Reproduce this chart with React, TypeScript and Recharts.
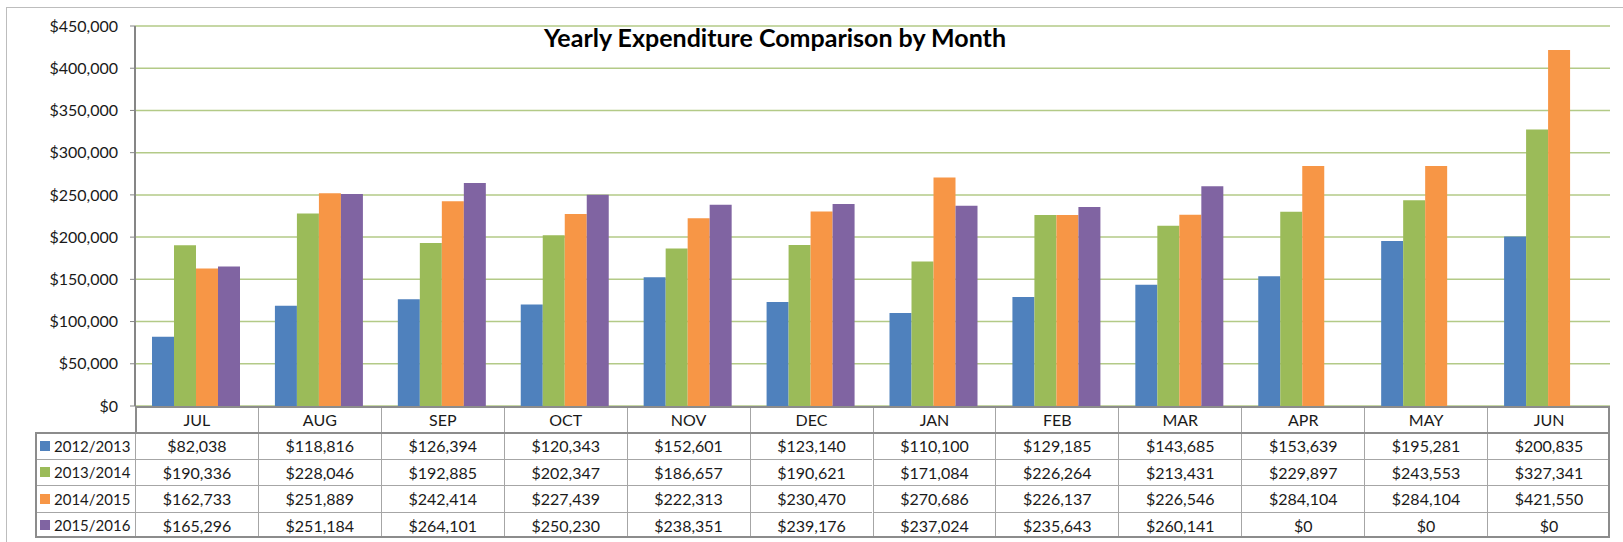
import { BarChart, Bar, XAxis, YAxis, CartesianGrid } from 'recharts';

const months = ['JUL', 'AUG', 'SEP', 'OCT', 'NOV', 'DEC', 'JAN', 'FEB', 'MAR', 'APR', 'MAY', 'JUN'];
const fy1213 = [82038, 118816, 126394, 120343, 152601, 123140, 110100, 129185, 143685, 153639, 195281, 200835];
const fy1314 = [190336, 228046, 192885, 202347, 186657, 190621, 171084, 226264, 213431, 229897, 243553, 327341];
const fy1415 = [162733, 251889, 242414, 227439, 222313, 230470, 270686, 226137, 226546, 284104, 284104, 421550];
const fy1516 = [165296, 251184, 264101, 250230, 238351, 239176, 237024, 235643, 260141, 0, 0, 0];
const yTicks = [0, 50000, 100000, 150000, 200000, 250000, 300000, 350000, 400000, 450000];

const series = [
  { key: 'fy1213', name: '2012/2013', values: fy1213, color: '#4F81BD' },
  { key: 'fy1314', name: '2013/2014', values: fy1314, color: '#9BBB59' },
  { key: 'fy1415', name: '2014/2015', values: fy1415, color: '#F79646' },
  { key: 'fy1516', name: '2015/2016', values: fy1516, color: '#8064A2' },
];

const chartData = months.map((m, i) => {
  const row: Record<string, string | number> = { month: m };
  series.forEach((s) => {
    row[s.key] = s.values[i];
  });
  return row;
});

const money = (v: number) => '$' + v.toLocaleString('en-US');

const FONT = 'Lato, "Open Sans", sans-serif';
const TEXT_SIZE = 16;
const PLOT_LEFT = 135;
const PLOT_RIGHT = 1610;
const PLOT_TOP = 26;
const PLOT_BOTTOM = 406;
const COL_W = (PLOT_RIGHT - PLOT_LEFT) / months.length;
const LEGEND_LEFT = 35;
const HEAD_H = 26;
const ROW_H = 26.5;
const LINE = '#a6a6a6';

function DataTable() {
  const cells: JSX.Element[] = [];
  months.forEach((m, i) => {
    cells.push(
      <div
        key={'h' + m}
        style={{
          position: 'absolute',
          left: PLOT_LEFT + i * COL_W,
          top: PLOT_BOTTOM,
          width: COL_W,
          height: HEAD_H,
          borderLeft: `1px solid ${LINE}`,
          boxSizing: 'border-box',
          display: 'flex',
          alignItems: 'center',
          justifyContent: 'center',
        }}
      >
        {m}
      </div>
    );
  });
  series.forEach((s, r) => {
    const top = PLOT_BOTTOM + HEAD_H + r * ROW_H;
    cells.push(
      <div
        key={'l' + s.key}
        style={{
          position: 'absolute',
          left: LEGEND_LEFT,
          top,
          width: PLOT_LEFT - LEGEND_LEFT,
          height: ROW_H,
          borderTop: `1px solid ${LINE}`,
          boxSizing: 'border-box',
          display: 'flex',
          alignItems: 'center',
          paddingLeft: 5,
          fontSize: 15,
        }}
      >
        <span style={{ width: 10, height: 10, background: s.color, display: 'inline-block', marginRight: 4 }} />
        {s.name}
      </div>
    );
    s.values.forEach((v, i) => {
      cells.push(
        <div
          key={s.key + i}
          style={{
            position: 'absolute',
            left: PLOT_LEFT + i * COL_W,
            top,
            width: COL_W,
            height: ROW_H,
            borderTop: `1px solid ${LINE}`,
            borderLeft: `1px solid ${LINE}`,
            boxSizing: 'border-box',
            display: 'flex',
            alignItems: 'center',
            justifyContent: 'center',
          }}
        >
          {money(v)}
        </div>
      );
    });
  });
  return (
    <>
      {cells}
      {/* outer frame of the table */}
      <div
        style={{
          position: 'absolute',
          left: PLOT_LEFT,
          top: PLOT_BOTTOM,
          width: PLOT_RIGHT - PLOT_LEFT,
          height: HEAD_H,
          border: '2px solid #8c8c8c',
          borderBottom: 'none',
          boxSizing: 'border-box',
        }}
      />
      <div
        style={{
          position: 'absolute',
          left: LEGEND_LEFT,
          top: PLOT_BOTTOM + HEAD_H,
          width: PLOT_RIGHT - LEGEND_LEFT,
          height: ROW_H * series.length,
          border: '2px solid #8c8c8c',
          boxSizing: 'border-box',
        }}
      />
    </>
  );
}

export default function App() {
  return (
    <div
      style={{
        position: 'absolute',
        left: 0,
        top: 0,
        width: 1623,
        height: 542,
        background: '#fff',
        fontFamily: FONT,
        fontSize: TEXT_SIZE,
        color: '#1a1a1a',
        overflow: 'hidden',
      }}
    >
      <div
        style={{
          position: 'absolute',
          left: 6,
          top: 7,
          width: 1640,
          height: 560,
          border: '1px solid #bdbdbd',
        }}
      />
      <BarChart
        width={1623}
        height={542}
        data={chartData}
        margin={{ top: PLOT_TOP, right: 1623 - PLOT_RIGHT, bottom: 542 - PLOT_BOTTOM, left: 0 }}
        barGap={0}
        style={{ position: 'absolute', left: 0, top: 0 }}
      >
        <CartesianGrid vertical={false} stroke="#b3ca87" strokeWidth={1.5} />
        <XAxis dataKey="month" hide />
        <YAxis
          width={PLOT_LEFT}
          domain={[0, 450000]}
          ticks={yTicks}
          tickFormatter={money}
          tickSize={5}
          tickMargin={12}
          axisLine={{ stroke: '#868686', strokeWidth: 2 }}
          tickLine={{ stroke: '#868686' }}
          tick={{ fill: '#1a1a1a', fontSize: TEXT_SIZE, fontFamily: FONT }}
          interval={0}
        />
        {series.map((s) => (
          <Bar key={s.key} dataKey={s.key} name={s.name} fill={s.color} barSize={22} isAnimationActive={false} />
        ))}
      </BarChart>
      <div
        style={{
          position: 'absolute',
          left: 0,
          width: 1550,
          top: 22,
          textAlign: 'center',
          fontWeight: 700,
          fontSize: 25,
          color: '#000',
        }}
      >
        Yearly Expenditure Comparison by Month
      </div>
      <DataTable />
    </div>
  );
}
